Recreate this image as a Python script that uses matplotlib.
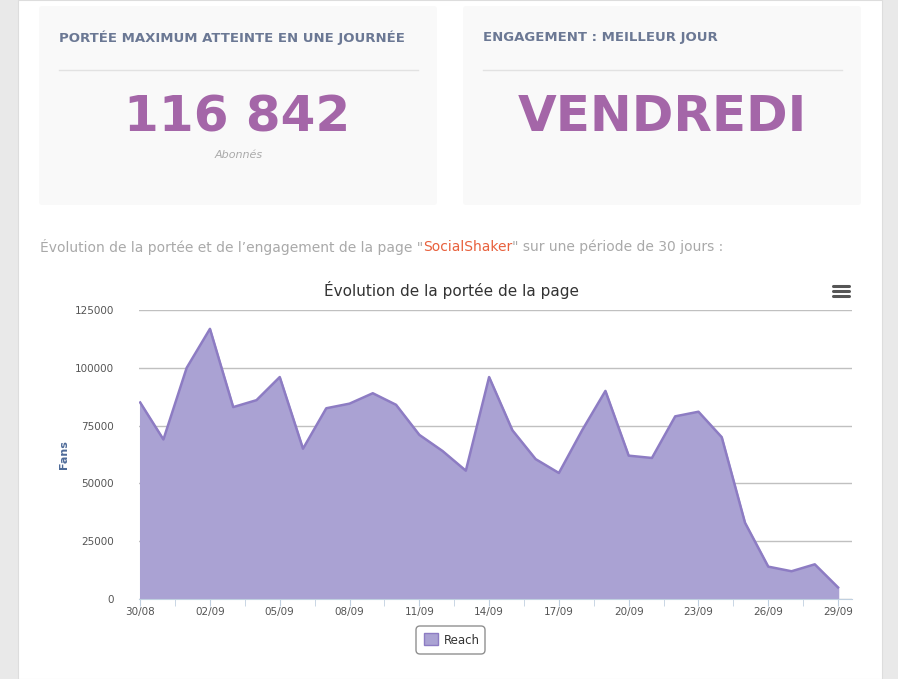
import matplotlib.pyplot as plt
from matplotlib.patches import Rectangle, FancyBboxPatch
import numpy as np

# Reach par jour, du 30/08 au 29/09
days = ['30/08', '31/08'] + [f'{d:02d}/09' for d in range(1, 30)]
reach = [85000, 69000, 100000, 116842, 83000, 86000, 96000, 65000, 82500, 84500,
         89000, 84000, 71000, 64000, 55500, 96000, 73000, 60500, 54500, 73000,
         90000, 62000, 61000, 79000, 81000, 70000, 33000, 14000, 12000, 15000, 5000]
yticks = [0, 25000, 50000, 75000, 100000, 125000]

W, H = 898, 679
fig = plt.figure(figsize=(W / 100, H / 100), dpi=100)
fig.patch.set_facecolor('#e9e9e9')
narrow = ['Liberation Sans Narrow', 'DejaVu Sans']

bg = fig.add_axes([0, 0, 1, 1])
bg.set_xlim(0, W)
bg.set_ylim(H, 0)
bg.axis('off')
bg.add_patch(Rectangle((18, 0), 864, H, facecolor='white', edgecolor='#dddddd', lw=0.8))
for x0 in (39, 463):
    bg.add_patch(FancyBboxPatch((x0, 6), 398, 199, boxstyle='round,pad=0,rounding_size=3',
                                facecolor='#f9f9f9', edgecolor='none'))
    bg.plot([x0 + 20, x0 + 379], [70, 70], color='#e2e2e2', lw=1)

title_col = '#6b7894'
purple = '#a466a8'
bg.text(59, 38, 'PORTÉE MAXIMUM ATTEINTE EN UNE JOURNÉE', color=title_col, fontsize=9.5,
        fontweight='bold', va='center', ha='left', family=narrow)
bg.text(483, 38, 'ENGAGEMENT : MEILLEUR JOUR', color=title_col, fontsize=9.5,
        fontweight='bold', va='center', ha='left', family=narrow)
bg.text(237, 117, '116 842', color=purple, fontsize=36, fontweight='bold', ha='center',
        va='center', family=narrow)
bg.text(239, 155, 'Abonnés', color='#aaaaaa', fontsize=8, style='italic', ha='center',
        va='center', family=narrow)
bg.text(662, 117, 'VENDREDI', color=purple, fontsize=36, fontweight='bold', ha='center',
        va='center', family=narrow)

sub_col = '#a9a9a9'
t1 = bg.text(40, 247, 'Évolution de la portée et de l’engagement de la page "', color=sub_col,
             fontsize=10, va='center', ha='left', family=narrow)
fig.canvas.draw()
x1 = t1.get_window_extent().x1
t2 = bg.text(x1, 247, 'SocialShaker', color='#e8603c', fontsize=10, va='center', ha='left',
             family=narrow)
fig.canvas.draw()
x2 = t2.get_window_extent().x1
bg.text(x2, 247, '" sur une période de 30 jours :', color=sub_col, fontsize=10, va='center',
        ha='left', family=narrow)

bg.text(451, 290, 'Évolution de la portée de la page', color='#333333', fontsize=11,
        ha='center', va='center')
for dy in (-5, 0, 5):
    bg.plot([833, 849], [291 + dy, 291 + dy], color='#555555', lw=2.2, solid_capstyle='round')

# graphique
ax = fig.add_axes([139 / W, 1 - 599 / H, (852 - 139) / W, (599 - 310) / H])
x = np.arange(len(reach))
ax.fill_between(x, reach, color='#aaa2d3', zorder=2)
ax.plot(x, reach, color='#8d7cc3', lw=1.8, zorder=3)
ax.set_xlim(-0.05, 30.6)
ax.set_ylim(0, 125000)
ax.set_yticks(yticks)
ax.set_yticklabels([str(v) for v in yticks], fontsize=7.5, color='#555555')
ax.tick_params(axis='y', length=0, pad=18)
ax.yaxis.grid(True, color='#c0c0c0', lw=1, zorder=0)
ax.set_xticks(x[::3])
ax.set_xticklabels(days[::3], fontsize=7.5, color='#555555')
ax.set_xticks(x[::3][:-1] + 1.5, minor=True)
ax.tick_params(axis='x', which='both', length=5, color='#c0d0e0', pad=1)
for s in ('top', 'right', 'left'):
    ax.spines[s].set_visible(False)
ax.spines['bottom'].set_color('#c0d0e0')
ax.set_facecolor('none')
ax.set_ylabel('Fans', color='#4d6a98', fontsize=8, fontweight='bold', labelpad=4)

# légende
bg.add_patch(FancyBboxPatch((416, 626), 69, 28, boxstyle='round,pad=0,rounding_size=4',
                            facecolor='white', edgecolor='#909090', lw=1))
bg.add_patch(Rectangle((424, 633), 14, 12, facecolor='#aaa2d3', edgecolor='#8d7cc3'))
bg.text(444, 640, 'Reach', fontsize=8.5, color='#333333', va='center', ha='left')

fig.savefig('out.png', dpi=100, facecolor=fig.get_facecolor())
